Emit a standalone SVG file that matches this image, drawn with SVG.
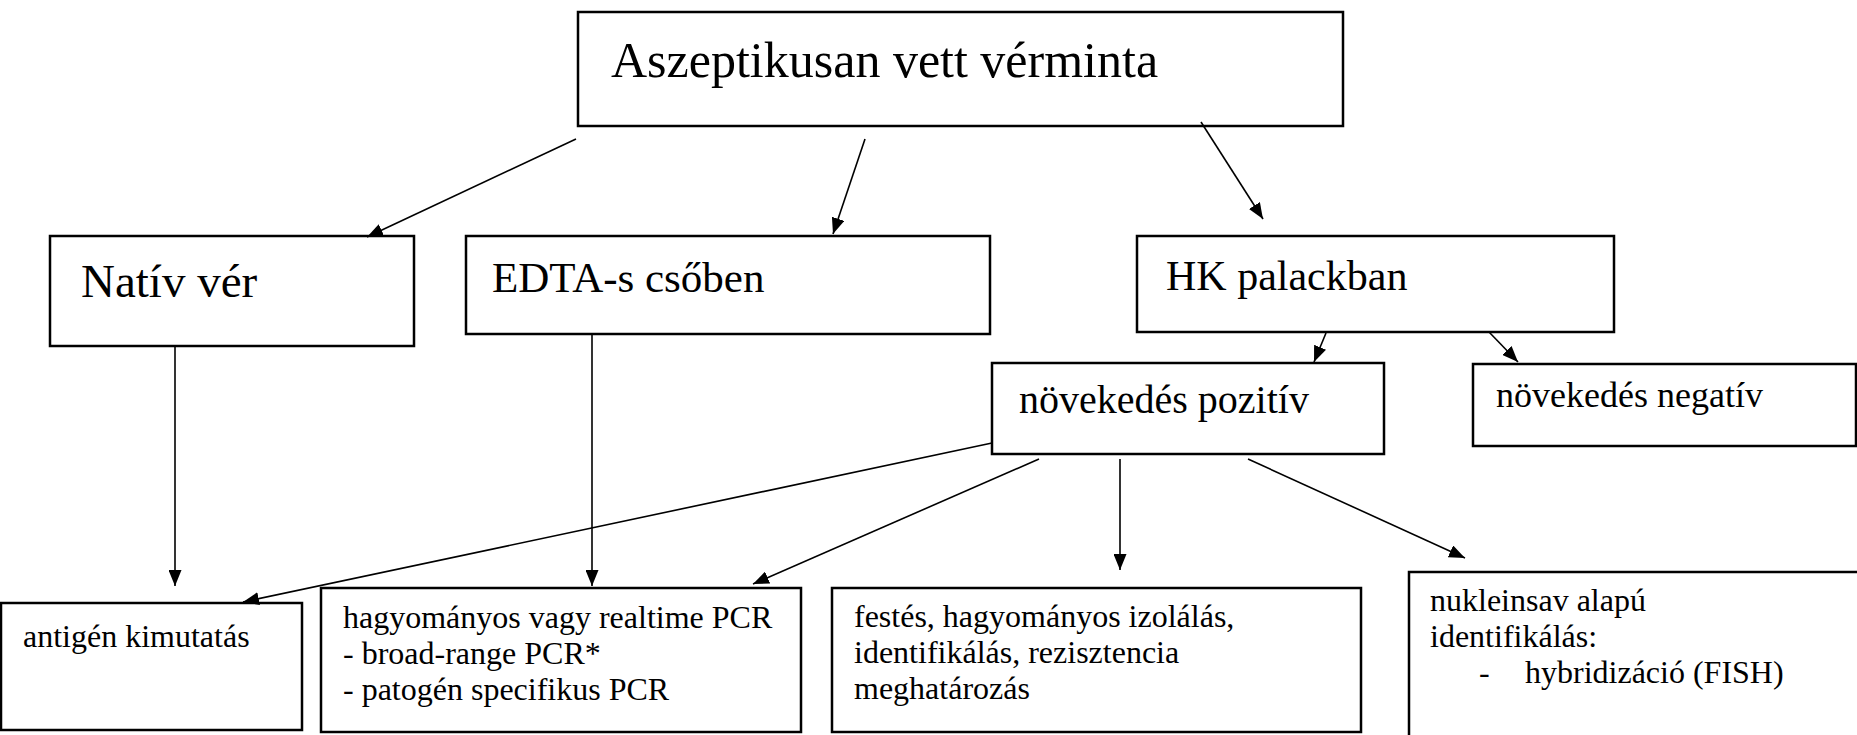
<svg xmlns="http://www.w3.org/2000/svg" width="1857" height="735" viewBox="0 0 1857 735">
<style>
.box{fill:#fff;stroke:#000;stroke-width:2.5}
.t{font-family:'Liberation Serif',Tinos,'Times New Roman','DejaVu Serif',serif;fill:#000}
.c line{stroke:#000;stroke-width:1.6}
</style>
<defs>
<marker id="ah" viewBox="0 0 16 13" refX="16" refY="6.5" markerWidth="16" markerHeight="13" markerUnits="userSpaceOnUse" orient="auto">
<path d="M0,0 L16,6.5 L0,13 z" fill="#000"/>
</marker>
</defs>
<rect width="1857" height="735" fill="#fff"/>
<g id="n-top"><rect class="box" x="578" y="12" width="765" height="114"/><text class="t" x="611" y="77" font-size="50">Aszeptikusan vett vérminta</text></g>
<g id="n-nativ"><rect class="box" x="50" y="236" width="364" height="110"/><text class="t" x="81" y="297" font-size="47">Natív vér</text></g>
<g id="n-edta"><rect class="box" x="466" y="236" width="524" height="98"/><text class="t" x="492" y="292" font-size="43">EDTA-s csőben</text></g>
<g id="n-hk"><rect class="box" x="1137" y="236" width="477" height="96"/><text class="t" x="1166" y="290" font-size="42">HK palackban</text></g>
<g id="n-poz"><rect class="box" x="992" y="363" width="392" height="91"/><text class="t" x="1019" y="413" font-size="40">növekedés pozitív</text></g>
<g id="n-neg"><rect class="box" x="1473" y="364" width="383" height="82"/><text class="t" x="1496" y="407" font-size="36">növekedés negatív</text></g>
<g id="n-antigen"><rect class="box" x="1" y="603" width="301" height="127"/><text class="t" x="23" y="647" font-size="32">antigén kimutatás</text></g>
<g id="n-pcr"><rect class="box" x="321" y="588" width="480" height="144"/><text class="t" font-size="32"><tspan x="343" y="628">hagyományos vagy realtime PCR</tspan><tspan x="343" y="664">- broad-range PCR*</tspan><tspan x="343" y="700">- patogén specifikus PCR</tspan></text></g>
<g id="n-festes"><rect class="box" x="832" y="588" width="529" height="144"/><text class="t" font-size="32"><tspan x="854" y="627">festés, hagyományos izolálás,</tspan><tspan x="854" y="663">identifikálás, rezisztencia</tspan><tspan x="854" y="699">meghatározás</tspan></text></g>
<g id="n-nuklein"><rect class="box" x="1409" y="572" width="470" height="180"/><text class="t" font-size="32"><tspan x="1430" y="611">nukleinsav alapú</tspan><tspan x="1430" y="647">identifikálás:</tspan><tspan x="1479" y="683">-</tspan><tspan x="1525" y="683">hybridizáció (FISH)</tspan></text></g>
<g id="connectors" class="c">
<line x1="576" y1="139" x2="367" y2="237" marker-end="url(#ah)"/>
<line x1="865" y1="139" x2="833" y2="234" marker-end="url(#ah)"/>
<line x1="1201" y1="122" x2="1263" y2="219" marker-end="url(#ah)"/>
<line x1="1326" y1="333" x2="1314" y2="362" marker-end="url(#ah)"/>
<line x1="1489" y1="332" x2="1518" y2="362" marker-end="url(#ah)"/>
<line x1="175" y1="347" x2="175" y2="586" marker-end="url(#ah)"/>
<line x1="592" y1="335" x2="592" y2="586" marker-end="url(#ah)"/>
<line x1="992" y1="443" x2="243" y2="602" marker-end="url(#ah)"/>
<line x1="1039" y1="459" x2="753" y2="584" marker-end="url(#ah)"/>
<line x1="1120" y1="459" x2="1120" y2="570" marker-end="url(#ah)"/>
<line x1="1248" y1="459" x2="1465" y2="558" marker-end="url(#ah)"/>
</g>
</svg>
